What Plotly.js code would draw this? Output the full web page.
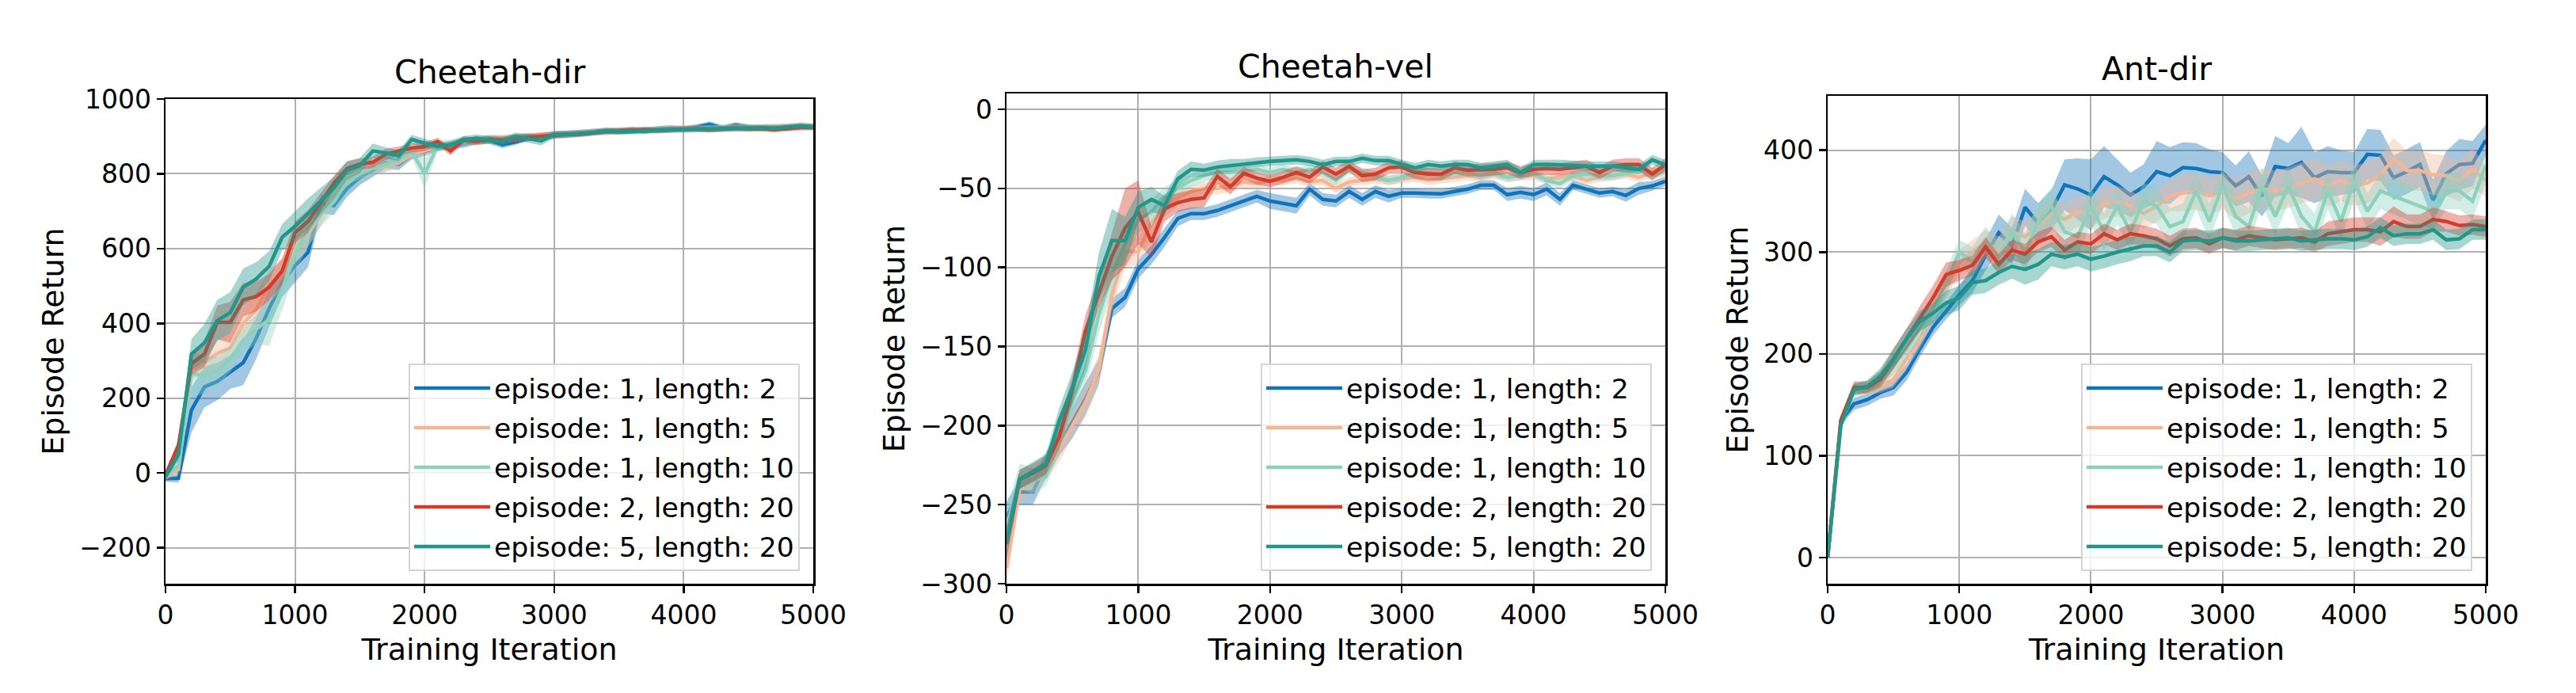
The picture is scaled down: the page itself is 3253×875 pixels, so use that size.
<!DOCTYPE html>
<html>
<head>
<meta charset="utf-8">
<script src="https://cdn.plot.ly/plotly-3.0.1.min.js"></script>
<style>
html,body{margin:0;padding:0;background:#fff;}
#chart{width:3253px;height:875px;}
</style>
</head>
<body>
<div id="chart"></div>
<script>
// ---------------- DATA ----------------
const iterations = [0,100,200,300,400,500,600,700,800,900,1000,1100,1200,1300,1400,1500,1600,1700,1800,1900,2000,2100,2200,2300,2400,2500,2600,2700,2800,2900,3000,3100,3200,3300,3400,3500,3600,3700,3800,3900,4000,4100,4200,4300,4400,4500,4600,4700,4800,4900,5000];

const seriesNames = ["episode: 1, length: 2","episode: 1, length: 5","episode: 1, length: 10","episode: 2, length: 20","episode: 5, length: 20"];
const panelTitles = ["Cheetah-dir","Cheetah-vel","Ant-dir"];
const xTickVals = [0,1000,2000,3000,4000,5000];
const yTickVals1 = [-200,0,200,400,600,800,1000];
const yTickVals2 = [-300,-250,-200,-150,-100,-50,0];
const yTickVals3 = [0,100,200,300,400];

// Cheetah-dir means
const cdirBlue   = [-15,-14,168,230,245,270,295,360,440,510,555,590,720,715,760,790,810,830,825,850,860,870,875,880,888,890,878,885,895,900,905,908,910,912,915,915,918,915,920,922,920,925,932,922,930,925,922,925,922,928,925];
const cdirOrange = [-10,10,275,295,320,335,400,437,500,530,600,640,690,745,790,805,815,820,830,850,862,872,878,885,890,893,895,898,900,903,906,908,910,912,915,914,916,917,918,920,922,921,920,923,925,924,925,926,928,930,928];
const cdirLteal  = [-8,20,265,262,272,305,355,385,410,490,585,650,695,725,780,800,815,825,840,860,800,875,880,886,890,895,893,896,900,898,903,905,908,912,913,915,915,917,918,920,920,921,922,921,923,922,924,922,925,926,925];
const cdirRed    = [-5,74,292,318,403,403,463,472,497,540,643,673,724,775,814,826,831,852,861,869,873,886,861,891,886,892,890,895,898,900,903,905,906,910,913,914,916,918,916,918,920,920,918,920,922,920,921,918,922,924,925];
const cdirTeal   = [-10,49,318,348,408,429,497,519,553,630,660,694,728,762,809,822,861,856,848,892,882,873,878,891,895,890,885,900,895,888,905,905,908,910,915,912,913,915,916,918,918,919,920,921,922,922,923,922,924,928,925];
// Cheetah-dir band half-widths
const cdirBlueSd   = [8,12,60,55,50,45,60,55,50,40,45,40,25,25,22,20,18,15,15,12,12,10,10,10,10,10,10,8,8,8,8,8,8,8,8,8,8,8,8,8,8,8,8,8,8,8,8,8,8,8,8];
const cdirOrangeSd = [8,15,25,30,35,40,40,45,45,40,40,35,30,25,20,18,15,15,15,12,12,10,10,10,10,10,10,10,8,8,8,8,8,8,8,8,8,8,8,8,8,8,8,8,8,8,8,8,8,8,8];
const cdirLtealSd  = [8,15,60,50,40,35,35,40,70,55,50,45,35,30,30,25,20,20,18,15,40,15,12,10,10,10,10,10,8,8,8,8,8,8,8,8,8,8,8,8,8,8,8,8,8,8,8,8,8,8,8];
const cdirRedSd    = [8,15,30,35,45,55,45,40,35,35,30,30,25,20,18,15,15,15,12,12,12,10,12,10,10,10,10,10,10,10,10,8,8,8,8,8,8,8,8,8,8,8,8,8,8,8,8,8,8,8,8];
const cdirTealSd   = [8,15,40,50,55,55,50,45,40,35,40,40,35,30,25,20,20,15,15,12,12,10,10,10,10,10,10,10,12,12,10,10,8,8,8,8,8,8,8,8,8,8,8,8,8,8,8,8,8,8,8];

// Cheetah-vel means
const cvelBlue   = [-258,-242,-242,-225,-211,-198,-183,-166,-126,-119,-101,-92,-81,-69,-66,-66,-64,-61,-58,-55,-58,-59.5,-61,-50.5,-57,-58,-52,-57,-52,-55,-53,-53,-53.5,-53.5,-52,-50.5,-48,-48,-54,-52.5,-54,-50.5,-57,-48,-50.5,-53,-52,-54.5,-50,-48.5,-45.5];
const cvelOrange = [-290,-240,-235,-228,-215,-200,-185,-165,-118,-90,-90,-72,-62,-56,-52,-50,-50,-48,-46,-47,-45,-45,-44,-46,-45,-50,-46,-45,-44,-45,-44,-43,-45,-44,-43,-42,-43,-41,-43,-42,-42,-44,-43,-42,-45,-43,-42,-41,-43,-40,-40];
const cvelLteal  = [-265,-232,-235,-232,-210,-185,-165,-130,-105,-85,-70,-65,-55,-50,-45,-42,-40,-40,-39,-38,-40,-38,-40,-38,-40,-45,-38,-40,-42,-45,-43,-40,-40,-42,-40,-40,-42,-40,-43,-42,-40,-45,-47,-42,-41,-42,-42,-40,-38,-42,-38];
const cvelRed    = [-275,-234,-230,-225,-207,-177,-140,-116,-93,-75,-65,-84,-63,-59,-57,-56,-42.5,-49,-40.5,-43.5,-45.5,-43,-40,-43,-36.5,-41,-36,-42,-41,-37,-36.5,-40,-41,-41,-37,-38.5,-38.5,-38,-37,-40,-38,-37.5,-38,-37,-36,-40,-36,-35,-35,-41,-35];
const cvelTeal   = [-274,-234,-229,-224,-197,-176,-152,-106,-83,-83,-62,-57,-61,-44,-38,-38.5,-36.5,-35.5,-34.5,-33.5,-33,-32.5,-32,-33,-35,-33,-33,-31,-32.5,-32.5,-35,-37,-35,-36,-35,-35,-37,-36,-35,-40,-35,-35,-35,-35.5,-36,-36,-36,-37,-38,-32,-35];
// Cheetah-vel band half-widths
const cvelBlueSd   = [10,8,8,8,8,10,10,8,6,6,6,6,6,5,4,4,4,4,4,4,5,5,5,4,4,4,4,4,4,4,3,3,3,3,3,3,3,3,4,4,4,4,4,3,3,3,3,4,4,3,3];
const cvelOrangeSd = [10,8,8,6,8,8,10,10,10,10,8,8,6,5,4,4,4,4,4,3,3,3,3,3,3,3,3,3,3,3,3,3,3,3,3,3,3,3,3,3,3,3,3,3,3,3,3,3,3,3,3];
const cvelLtealSd  = [12,8,8,6,8,8,10,12,10,10,8,8,6,5,4,4,4,4,4,3,3,3,3,3,3,3,3,3,3,3,3,3,3,3,3,3,3,3,3,3,3,3,3,3,3,3,3,3,3,3,3];
const cvelRedSd    = [10,6,6,6,8,8,10,10,15,25,20,10,8,6,6,6,5,5,4,4,4,4,4,4,4,4,4,4,4,4,4,4,4,4,4,4,4,4,4,4,4,4,4,4,4,4,4,4,4,4,4];
const cvelTealSd   = [10,6,6,6,8,10,12,15,20,15,10,8,6,5,5,4,4,4,3,3,3,3,3,3,3,3,3,3,3,3,3,3,3,3,3,3,3,3,3,3,3,3,3,3,3,3,3,3,3,3,3];

// Ant-dir means
const antBlue   = [0,134,151,155,162,167,182,205,226,242,258,272,297,319,306,344,328,341,366,362,356,374,366,356,364,379,375,383,382,379,378,365,374,355,384,382,388,373,379,378,378,396,395,373,379,386,351,377,386,387,410];
const antOrange = [0,130,165,165,168,175,195,215,240,265,290,300,310,300,320,315,325,338,332,340,338,348,350,345,338,345,355,358,360,355,360,352,358,362,360,363,368,372,365,370,365,368,375,392,380,380,376,375,370,382,370];
const antLteal  = [0,130,165,167,175,190,205,225,240,270,300,290,310,295,320,300,330,345,320,315,345,320,345,320,350,345,325,330,360,330,365,335,325,365,335,365,335,320,360,330,370,340,360,355,350,345,340,360,360,350,385];
const antRed    = [0,135,167,167,175,195,215,235,255,278,282,287,305,288,302,298,310,315,302,310,308,318,312,318,316,313,306,313,314,308,314,312,316,314,312,313,314,310,318,320,322,322,320,330,325,325,332,330,326,327,325];
const antTeal   = [0,130,165,168,178,195,215,232,240,250,255,270,272,280,286,283,288,298,295,298,293,296,300,303,306,306,300,311,312,311,314,311,311,312,313,314,311,312,313,313,312,315,324,316,318,318,322,312,313,322,322];
// Ant-dir band half-widths
const antBlueSd   = [0,5,6,6,6,8,8,8,8,8,10,12,15,18,18,18,20,20,25,30,35,30,25,22,22,30,28,25,25,22,20,20,25,20,30,25,35,25,25,22,20,25,25,22,22,22,20,22,25,22,15];
const antOrangeSd = [0,5,6,6,6,8,10,10,10,10,12,12,12,15,15,15,15,15,15,15,15,15,15,15,15,15,15,18,18,18,18,20,20,20,20,20,20,20,20,20,20,20,20,20,20,20,20,20,20,20,15];
const antLtealSd  = [0,5,6,6,8,10,10,10,10,12,12,15,15,15,18,18,18,18,18,18,18,18,18,18,18,18,18,18,18,18,18,18,18,18,18,18,18,18,18,18,18,18,18,18,18,18,18,18,18,18,18];
const antRedSd    = [0,5,6,6,8,10,10,12,12,12,10,10,10,10,10,10,10,10,10,10,10,10,10,10,10,10,10,10,10,10,10,10,10,10,10,10,10,10,12,12,12,12,14,15,12,12,12,10,10,10,10];
const antTealSd   = [0,5,6,6,8,10,10,10,10,12,12,12,12,12,12,15,15,12,12,12,12,12,12,12,10,10,10,10,10,10,10,10,10,10,10,10,10,10,10,10,10,10,10,10,10,10,10,10,10,10,10];

// ---------------- STYLE ----------------
const colors = ["#1373b8","#f3b796","#8dd1bd","#d23c2a","#22968a"];
const bandRGB = ["19,115,184","243,183,150","141,209,189","210,60,42","34,150,138"];
const FONT = "DejaVu Sans, Liberation Sans, sans-serif";

const panels = [
  {means:[cdirBlue,cdirOrange,cdirLteal,cdirRed,cdirTeal], sds:[cdirBlueSd,cdirOrangeSd,cdirLtealSd,cdirRedSd,cdirTealSd]},
  {means:[cvelBlue,cvelOrange,cvelLteal,cvelRed,cvelTeal], sds:[cvelBlueSd,cvelOrangeSd,cvelLtealSd,cvelRedSd,cvelTealSd]},
  {means:[antBlue,antOrange,antLteal,antRed,antTeal], sds:[antBlueSd,antOrangeSd,antLtealSd,antRedSd,antTealSd]}
];

const traces = [];
panels.forEach((p, pi) => {
  const xa = pi === 0 ? 'x' : 'x' + (pi + 1);
  const ya = pi === 0 ? 'y' : 'y' + (pi + 1);
  const lg = pi === 0 ? 'legend' : 'legend' + (pi + 1);
  p.means.forEach((m, si) => {
    const sd = p.sds[si];
    if (m.length !== iterations.length || sd.length !== iterations.length) {
      throw new Error('length mismatch panel ' + pi + ' series ' + si + ': ' + m.length + '/' + sd.length);
    }
    const upper = m.map((v, k) => v + sd[k]);
    const lower = m.map((v, k) => v - sd[k]);
    traces.push({
      x: iterations.concat(iterations.slice().reverse()),
      y: upper.concat(lower.slice().reverse()),
      xaxis: xa, yaxis: ya,
      type: 'scatter', mode: 'lines', fill: 'toself',
      fillcolor: 'rgba(' + bandRGB[si] + ',0.4)',
      line: {width: 0, color: 'rgba(0,0,0,0)'},
      hoverinfo: 'skip', showlegend: false,
      legendgroup: 'p' + pi + 's' + si, legend: lg
    });
    traces.push({
      x: iterations, y: m,
      xaxis: xa, yaxis: ya,
      type: 'scatter', mode: 'lines',
      line: {color: colors[si], width: 4.5},
      name: seriesNames[si],
      legendgroup: 'p' + pi + 's' + si, legend: lg
    });
  });
});

const W = 3253, H = 875;
const boxes = [
  {l:209, r:1027, t:125, b:737},
  {l:1271, r:2103, t:118, b:737},
  {l:2308, r:3139, t:121, b:737}
];
const yRanges = [[-296,1000],[-300,10],[-25.6,453.4]];
const yTicks = [yTickVals1, yTickVals2, yTickVals3];

function axisCommon() {
  return {
    showline: true, mirror: true, linecolor: '#000', linewidth: 2.5,
    ticks: 'outside', ticklen: 9, tickwidth: 2.5, tickcolor: '#000',
    showgrid: true, gridcolor: '#b0b0b0', gridwidth: 2,
    zeroline: false, automargin: false,
    tickfont: {family: FONT, size: 33, color: '#000'}
  };
}

const layout = {
  width: W, height: H,
  margin: {l:0, r:0, t:0, b:0},
  paper_bgcolor: '#fff', plot_bgcolor: '#fff',
  font: {family: FONT, color: '#000'},
  annotations: [],
  showlegend: true
};

boxes.forEach((b, i) => {
  const sfx = i === 0 ? '' : String(i + 1);
  const xa = Object.assign(axisCommon(), {
    domain: [b.l / W, b.r / W],
    anchor: 'y' + sfx,
    range: [0, 5000],
    tickmode: 'array', tickvals: xTickVals,
    title: {text: 'Training Iteration', font: {family: FONT, size: 38, color: '#000'}, standoff: 12}
  });
  const ya = Object.assign(axisCommon(), {
    domain: [1 - b.b / H, 1 - b.t / H],
    anchor: 'x' + sfx,
    range: yRanges[i],
    tickmode: 'array', tickvals: yTicks[i],
    title: {text: 'Episode Return', font: {family: FONT, size: 38, color: '#000'}, standoff: 8}
  });
  layout['xaxis' + sfx] = xa;
  layout['yaxis' + sfx] = ya;
  layout['legend' + sfx] = {
    x: (b.r - 17) / W, xanchor: 'right',
    y: 1 - (b.b - 16) / H, yanchor: 'bottom',
    bgcolor: 'rgba(255,255,255,0.8)', bordercolor: '#d4d4d4', borderwidth: 2,
    font: {family: FONT, size: 34.6, color: '#000'},
    tracegroupgap: 2, itemwidth: 96
  };
  layout.annotations.push({
    text: panelTitles[i], xref: 'paper', yref: 'paper',
    x: (b.l + b.r) / 2 / W, xanchor: 'center',
    y: 1 - (b.t - 8) / H, yanchor: 'bottom',
    showarrow: false, font: {family: FONT, size: 41, color: '#000'}
  });
});

Plotly.newPlot('chart', traces, layout, {staticPlot: true, displayModeBar: false});
</script>
</body>
</html>
